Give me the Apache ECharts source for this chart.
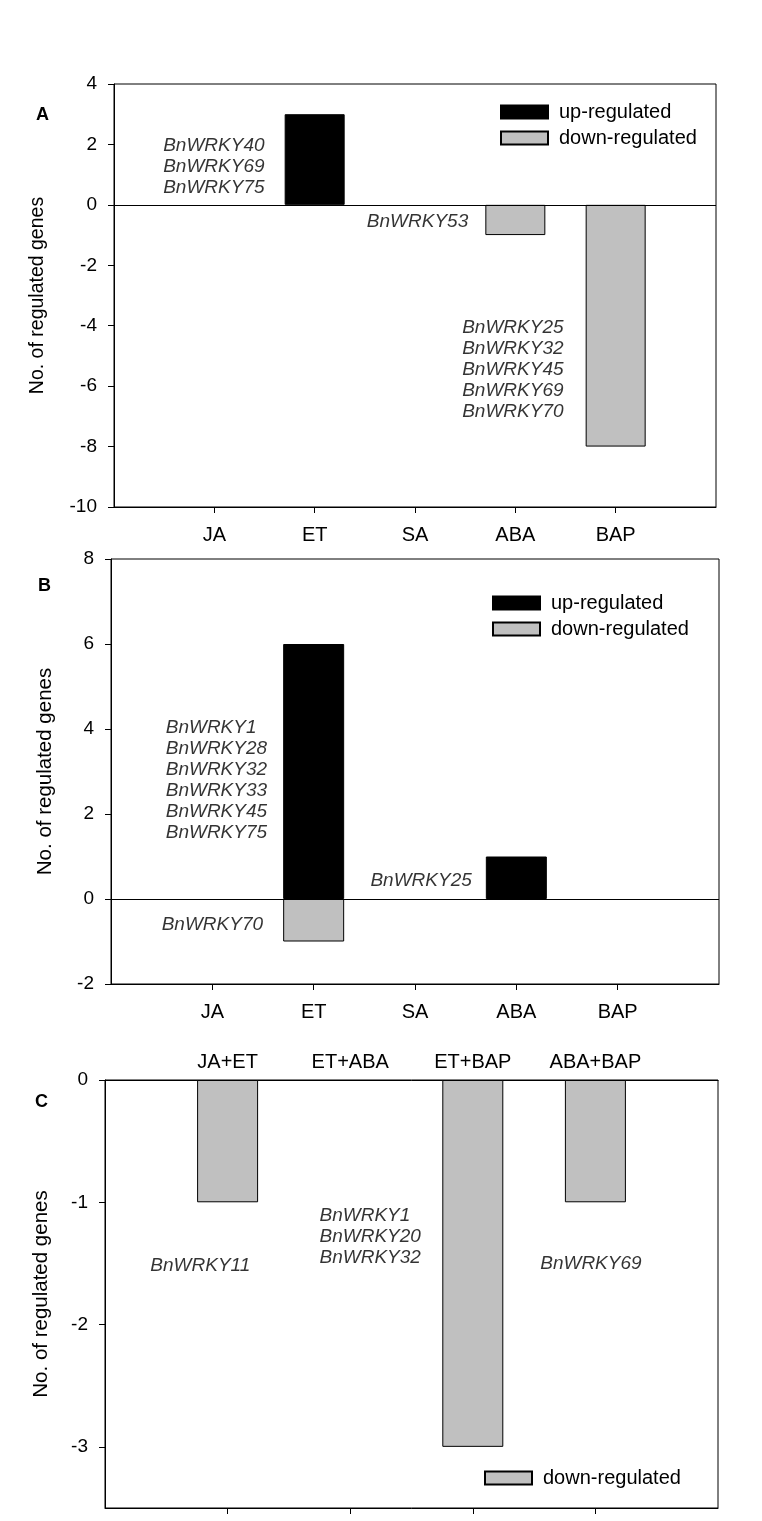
<!DOCTYPE html>
<html>
<head>
<meta charset="utf-8">
<script src="https://cdn.jsdelivr.net/npm/echarts@6/dist/echarts.min.js"></script>
<style>
html,body{margin:0;padding:0;background:#fff;}
#chart{width:762px;height:1521px;}
</style>
</head>
<body>
<div id="chart"></div>
<script>
// ---- data ----
const categoriesAB = ['JA', 'ET', 'SA', 'ABA', 'BAP'];
const upA = [null, 3, null, null, null];
const downA = [null, null, null, -1, -8];
const upB = [null, 6, null, 1, null];
const downB = [null, -1, null, null, null];
const categoriesC = ['JA+ET', 'ET+ABA', 'ET+BAP', 'ABA+BAP'];
const downC = [-1, null, -3, -1];
const ticksA = [-10, -8, -6, -4, -2, 0, 2, 4];
const ticksB = [-2, 0, 2, 4, 6, 8];
const ticksC = [-3, -2, -1, 0];
// gene-name annotations: text lines and anchor (data coordinates)
const genesAText = [['BnWRKY40', 'BnWRKY69', 'BnWRKY75'], ['BnWRKY53'], ['BnWRKY25', 'BnWRKY32', 'BnWRKY45', 'BnWRKY69', 'BnWRKY70']];
const genesAAt = [[0.49, 1.26], [2.52, -0.55], [3.47, -5.47]];
const genesBText = [['BnWRKY1', 'BnWRKY28', 'BnWRKY32', 'BnWRKY33', 'BnWRKY45', 'BnWRKY75'], ['BnWRKY25'], ['BnWRKY70']];
const genesBAt = [[0.54, 2.79], [2.56, 0.43], [0.50, -0.60]];
const genesCText = [['BnWRKY11'], ['BnWRKY1', 'BnWRKY20', 'BnWRKY32'], ['BnWRKY69']];
const genesCAt = [[0.37, -1.52], [1.75, -1.28], [3.55, -1.50]];

// ---- helpers ----
const FONT = 'Liberation Sans, Arial, sans-serif';
const toPairs = arr => arr.map((v, i) => v == null ? null : [i + 1, v]).filter(d => d);
const idx = n => Array.from({length: n}, (_, i) => i + 1);
const upStyle = {color: '#000', borderColor: '#000', borderWidth: 1};
const downStyle = {color: '#c0c0c0', borderColor: '#000', borderWidth: 1};
const axisLine = {show: true, onZero: false, lineStyle: {color: '#000', width: 1}};

function catAxis(grid, cats, max, position, showLabel, showTick, margin) {
  return {
    type: 'value', gridIndex: grid, min: 0, max: max, position: position,
    axisLine: axisLine, splitLine: {show: false},
    axisTick: {show: showTick, inside: false, length: 6, customValues: idx(cats.length), lineStyle: {color: '#000'}},
    axisLabel: {show: showLabel, customValues: idx(cats.length), margin: margin,
      formatter: v => cats[Math.round(v) - 1] || '', color: '#000', fontSize: 20, fontFamily: FONT}
  };
}
function valAxis(grid, min, max, ticks, nameSize, nameGap) {
  return {
    type: 'value', gridIndex: grid, min: min, max: max,
    name: 'No. of regulated genes', nameLocation: 'middle', nameGap: nameGap,
    nameTextStyle: {fontSize: nameSize, color: '#000', fontFamily: FONT},
    axisLine: axisLine, splitLine: {show: false},
    axisTick: {show: true, inside: false, length: 6, customValues: ticks, lineStyle: {color: '#000'}},
    axisLabel: {customValues: ticks, margin: 17, color: '#000', fontSize: 19, fontFamily: FONT}
  };
}
function geneSeries(xi, yi, texts, ats) {
  return {
    type: 'scatter', xAxisIndex: xi, yAxisIndex: yi, symbolSize: 0, silent: true, z: 5,
    data: ats.map((p, i) => [p[0], p[1], texts[i].join('\n')]),
    label: {show: true, position: 'right', distance: 0, formatter: p => p.data[2],
      fontStyle: 'italic', fontSize: 19, lineHeight: 21, color: '#000', fontFamily: FONT}
  };
}
const zeroLine = {silent: true, symbol: 'none', label: {show: false},
  lineStyle: {color: '#000', width: 1, type: 'solid'}, data: [{yAxis: 0}]};
function legend(names, left, top) {
  return {orient: 'vertical', left: left, top: top, data: names, itemWidth: 47, itemHeight: 13, itemGap: 6,
    icon: 'rect', selectedMode: false, padding: 0,
    textStyle: {fontSize: 20, lineHeight: 20, color: '#000', fontFamily: FONT, padding: [0, 0, 0, 6]}};
}

const chart = echarts.init(document.getElementById('chart'), null, {renderer: 'canvas'});
chart.setOption({
  animation: false,
  backgroundColor: '#fff',
  grid: [
    {left: 114, right: 46, top: 84, bottom: 1014, show: true, borderColor: '#000', borderWidth: 1},
    {left: 111, right: 43, top: 559, bottom: 537, show: true, borderColor: '#000', borderWidth: 1},
    {left: 105, right: 44, top: 1080, bottom: 13, show: true, borderColor: '#000', borderWidth: 1}
  ],
  xAxis: [
    catAxis(0, categoriesAB, 6, 'bottom', true, true, 18),
    catAxis(1, categoriesAB, 6, 'bottom', true, true, 18),
    catAxis(2, categoriesC, 5, 'bottom', false, true, 8),
    catAxis(2, categoriesC, 5, 'top', true, false, 8)
  ],
  yAxis: [
    valAxis(0, -10, 4, ticksA, 19.5, 66),
    valAxis(1, -2, 8, ticksB, 20.5, 55),
    valAxis(2, -3.5, 0, ticksC, 20.5, 53)
  ],
  legend: [
    legend(['up-regulated', 'down-regulated'], 500, 102),
    legend(['up-regulated', 'down-regulated'], 492, 593),
    legend(['down-regulated'], 484, 1468)
  ],
  graphic: [
    {type: 'text', x: 36, y: 115, style: {text: 'A', fontSize: 18, fontWeight: 'bold', fontFamily: FONT, fill: '#000', verticalAlign: 'middle'}},
    {type: 'text', x: 38, y: 586, style: {text: 'B', fontSize: 18, fontWeight: 'bold', fontFamily: FONT, fill: '#000', verticalAlign: 'middle'}},
    {type: 'text', x: 35, y: 1102, style: {text: 'C', fontSize: 18, fontWeight: 'bold', fontFamily: FONT, fill: '#000', verticalAlign: 'middle'}}
  ],
  series: [
    {name: 'up-regulated', type: 'bar', xAxisIndex: 0, yAxisIndex: 0, stack: 'A', barWidth: 60, data: toPairs(upA), itemStyle: upStyle},
    {name: 'down-regulated', type: 'bar', xAxisIndex: 0, yAxisIndex: 0, stack: 'A', barWidth: 60, data: toPairs(downA), itemStyle: downStyle, markLine: zeroLine},
    {name: 'up-regulated', type: 'bar', xAxisIndex: 1, yAxisIndex: 1, stack: 'B', barWidth: 61, data: toPairs(upB), itemStyle: upStyle},
    {name: 'down-regulated', type: 'bar', xAxisIndex: 1, yAxisIndex: 1, stack: 'B', barWidth: 61, data: toPairs(downB), itemStyle: downStyle, markLine: zeroLine},
    {name: 'down-regulated', type: 'bar', xAxisIndex: 2, yAxisIndex: 2, barWidth: 61, data: toPairs(downC), itemStyle: downStyle},
    geneSeries(0, 0, genesAText, genesAAt),
    geneSeries(1, 1, genesBText, genesBAt),
    geneSeries(2, 2, genesCText, genesCAt)
  ]
});
</script>
</body>
</html>
